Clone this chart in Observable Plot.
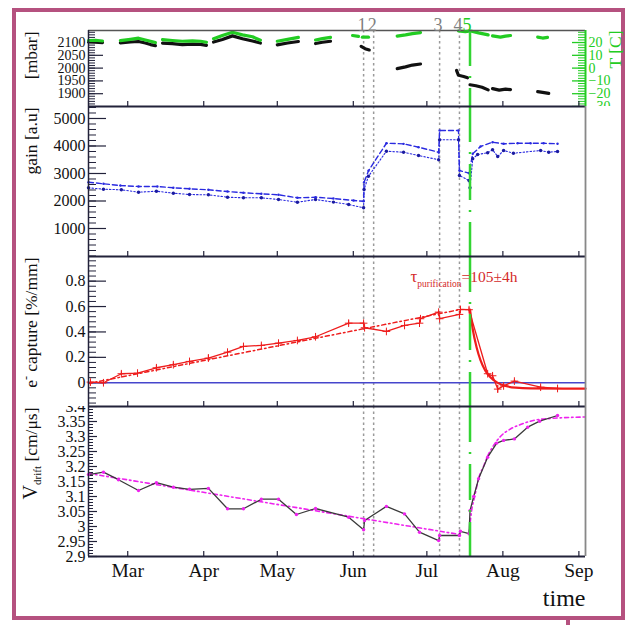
<!DOCTYPE html>
<html><head><meta charset="utf-8">
<script src="https://cdn.jsdelivr.net/npm/d3@7"></script>
<script src="https://cdn.jsdelivr.net/npm/@observablehq/plot@0.6"></script>
<style>
body{margin:0;background:#fff;}
#wrap{position:relative;width:630px;height:625px;overflow:hidden;font-family:"Liberation Serif","Times New Roman",serif;background:#fff;}
#frame{position:absolute;left:12px;top:8px;width:613px;height:612px;box-sizing:border-box;border:4.5px solid #b5517f;}
#mark{position:absolute;left:566px;top:619px;width:4px;height:6px;background:#b5517f;}
.panel{position:absolute;left:0;}
</style></head><body>
<div id="wrap"><div id="frame"></div><div id="mark"></div></div>
<script>
// ---------- data (days counted from 1 March) ----------
const monthLabels = ["Mar","Apr","May","Jun","Jul","Aug","Sep"];
const monthStartDays = [0,31,61,92,122,153,184];
const eventDays = [96.2, 100.3, 127.2, 135.3, 139.6];
const eventLabels = ["1","2","3","4","5"];

// pressure [mbar] (black) and temperature [C] (green)
const pressDay = [-16.0,-13.2,-10.3, -3.0,1.1,4.4,7.2,9.3,11.3, 14.2,18.2,22.3,26.4,29.7,32.1, 35.0,38.6,42.7,46.8,50.9,54.1, 61.0,65.2,69.6, 76.6,79.4,82.7, 95.2,96.8,98.5, 109.9,113.3,116.1,119.4, 134.1,134.9,137.0,138.6, 139.6,142.0,144.5,147.0, 148.8,151.5,154.1,156.1, 167.2,169.2,171.7];
const pressVal = [2102,2101,2100, 2099,2102,2104,2098,2092,2088, 2098,2096,2092,2094,2093,2089, 2102,2112,2126,2115,2106,2098, 2091,2098,2104, 2096,2101,2105, 2085,2076,2071, 1998,2005,2012,2016, 1991,1972,1967,1962, 1935,1931,1925,1915, 1920,1914,1918,1916, 1908,1905,1901];
const pressSeg = [1,1,1, 2,2,2,2,2,2, 3,3,3,3,3,3, 4,4,4,4,4,4, 5,5,5, 6,6,6, 7,7,7, 8,8,8,8, 9,9,9,9, 10,10,10,10, 11,11,11,11, 12,12,12];
const tempDay = [-16.0,-13.2,-10.3, -3.0,1.1,4.4,7.2,9.3,11.3, 14.2,18.2,22.3,26.4,29.7,32.1, 35.0,38.6,42.7,46.8,50.9,54.1, 61.0,65.2,69.6, 76.6,79.4,82.7, 91.7,94.1, 95.7,98.2, 109.9,113.3,116.1,119.4, 134.9,137.7,139.8,143.1,147.0, 148.8,152.0,154.1,156.1, 167.2,169.2,171.2];
const tempVal = [21.6,21.8,21.2, 21.5,22.5,23.4,22.0,21.0,20.0, 22.2,21.6,21.0,21.3,21.0,20.2, 23.0,25.5,28.0,26.0,24.5,21.8, 21.0,22.5,24.0, 22.0,23.0,24.0, 25.5,24.8, 24.2,24.2, 25.0,26.0,27.0,27.8, 29.0,28.5,29.0,27.5,26.0, 25.2,24.2,25.0,25.5, 24.2,23.5,24.0];
const tempSeg = [1,1,1, 2,2,2,2,2,2, 3,3,3,3,3,3, 4,4,4,4,4,4, 5,5,5, 6,6,6, 7,7, 8,8, 9,9,9,9, 10,10,10,10,10, 11,11,11,11, 12,12,12];

// gain [a.u] : two series
const gainUpDay = [-16.0,-9.9,-3.0,4.4,12.1,18.6,25.2,32.9,40.7,47.2,54.5,61.5,69.2,76.6, 83.9,92.1,96.2, 96.4,98.2,105.5,112.5,118.6,126.8, 127.2,134.9, 135.3,139.2, 140.7,143.9,148.8,153.3,159.0,164.3,169.6,175.3];
const gainUpVal = [2684,2625,2564,2527,2527,2480,2443,2407,2345,2298,2262,2225,2116,2138, 2090,2018,1990, 2680,3100,4100,4078,3956,3774, 4563,4563, 3109,3011, 3716,3982,4138,4080,4100,4100,4100,4080];
const gainLoDay = [-16.0,-9.9,-2.6,4.4,11.7,18.6,25.2,32.9,40.7,47.2,54.5,61.5,69.2,76.6, 83.9,90.1,96.2, 96.4,98.2,105.5,112.5,118.6,126.8, 127.2,134.9, 135.3,139.2,139.6, 140.7,142.7,146.8,148.8,150.9,153.3,157.3,168.4,171.7,175.3];
const gainLoVal = [2480,2429,2407,2320,2356,2284,2236,2225,2138,2116,2116,2054,1956,2054, 1960,1873,1753, 2420,2900,3810,3774,3654,3500, 4225,4225, 2927,2745,2480, 3534,3690,3752,3862,3618,3836,3738,3836,3774,3800];

// e- capture [%/mm]
const capDay = [-15.2,-9.9,-2.6,4.0,11.7,18.6,25.2,32.9,40.7,47.2,54.5,61.5,69.2,76.6, 90.1,96.2,96.6,105.5,112.9,119.0,119.4,126.8,127.2,135.3,135.7,139.2, 146.8,148.8,150.9,153.3,157.7,168.4,175.3];
const capVal = [0.005,0.0,0.071,0.076,0.118,0.142,0.168,0.194,0.241,0.286,0.294,0.312,0.333,0.362, 0.469,0.469,0.433,0.404,0.451,0.469,0.504,0.556,0.504,0.538,0.577,0.575, 0.071,0.055,-0.05,-0.025,0.013,-0.035,-0.045];
const capErr = [0.01,0.02,0.015,0.01,0.015,0.012,0.012,0.025,0.012,0.01,0.01,0.01,0.01,0.012, 0.02,0.012,0.01,0.01,0.01,0.01,0.01,0.01,0.01,0.01,0.02,0.015, 0.01,0.015,0.03,0.015,0.01,0.01,0.01];
const capFitDay = [-16.0, 135.7];
const capFitVal = [-0.006, 0.577];
const capDecayDay = [139.6,140.7,142.3,143.9,145.9,148.0,150.9,154.1,158.2,164.3,186.7];
const capDecayVal = [0.575,0.423,0.277,0.176,0.093,0.041,-0.001,-0.025,-0.039,-0.045,-0.047];

// V drift [cm/us]
const vDay = [-16.0,-9.9,-3.8,4.4,11.7,18.6,25.2,32.9,40.7,47.2,54.5,61.5,68.8,76.6, 90.1,96.2,96.6,105.5,112.9,119.0,126.8,127.2,135.3,135.7,139.2,139.6,141.1,143.1,146.8,150.5,153.3,157.7,163.1,168.0,175.3];
const vVal = [3.173,3.181,3.156,3.12,3.146,3.131,3.124,3.127,3.059,3.059,3.091,3.091,3.04,3.06, 3.031,2.989,3.02,3.067,3.042,2.981,2.953,2.97,2.97,2.984,2.976,3.053,3.1,3.159,3.231,3.278,3.287,3.292,3.331,3.351,3.37];
const vFitDay = [-16.0, 135.7];
const vFitVal = [3.177, 2.973];
const vRiseDay = [139.2,140.2,141.5,143.1,145.1,146.8,149.2,152.0,156.1,160.2,166.3,172.5,186.7];
const vRiseVal = [2.975,3.05,3.10,3.16,3.20,3.235,3.27,3.30,3.325,3.34,3.355,3.36,3.365];

// axis ticks
const pressTicks = [1900,1950,2000,2050,2100];
const tempTicks = [-30,-20,-10,0,10,20];
const gainTicks = [1000,2000,3000,4000,5000];
const capTicks = [0,0.2,0.4,0.6,0.8];
const vTicks = [2.9,2.95,3,3.05,3.1,3.15,3.2,3.25,3.3,3.35,3.4];

// ---------- setup ----------
const D0 = Date.UTC(2010, 2, 1);
const toDate = d => new Date(D0 + d * 864e5);
const xDomain = [toDate(-16.0), toDate(186.7)];
const months = monthStartDays.map(toDate);
const W = 630, ML = 88, MR = 45, FW = W - ML - MR;
const FONT = "Liberation Serif, Times New Roman, serif";
const DARK = "#22223a", GREEN = "#22cc22", RED = "#ee1c1c", BLUE = "#2a2ae0", MAG = "#ee22ee";
const fmt = d => String(+d.toFixed(2)).replace("-", "\u2212");

const press = pressDay.map((d,i) => ({date: toDate(d), v: pressVal[i], seg: pressSeg[i]}));
const temp = tempDay.map((d,i) => ({date: toDate(d), v: tempVal[i], seg: tempSeg[i]}));
const gainUp = gainUpDay.map((d,i) => ({date: toDate(d), v: gainUpVal[i]}));
const gainLo = gainLoDay.map((d,i) => ({date: toDate(d), v: gainLoVal[i]}));
const cap = capDay.map((d,i) => ({date: toDate(d), v: capVal[i], e: capErr[i]}));
const capFit = capFitDay.map((d,i) => ({date: toDate(d), v: capFitVal[i]}));
const capDecay = capDecayDay.map((d,i) => ({date: toDate(d), v: capDecayVal[i]}));
const vd = vDay.map((d,i) => ({date: toDate(d), v: vVal[i]}));
const vFit = vFitDay.map((d,i) => ({date: toDate(d), v: vFitVal[i]}));
const vRise = vRiseDay.map((d,i) => ({date: toDate(d), v: vRiseVal[i]}));
const events = eventDays.map((d,i) => ({date: toDate(d), label: eventLabels[i]}));

function leftAxis(major, minor, majLen, minLen, labels, fs) {
  return [
    Plot.tickY(minor, {y: d => d, stroke: DARK, strokeWidth: 1, insetRight: FW - minLen}),
    Plot.tickY(major, {y: d => d, stroke: DARK, strokeWidth: 1.2, insetRight: FW - majLen}),
    Plot.text(labels, {y: d => d, text: fmt, frameAnchor: "left", textAnchor: "end", dx: -3,
      fontSize: fs, fontFamily: FONT, fill: "#111"})
  ];
}
function frameMarks(yDom, rightColor = "#888") {
  return [
    Plot.ruleY([yDom[0]], {stroke: DARK, strokeWidth: 2}),
    Plot.ruleY([yDom[1]], {stroke: DARK, strokeWidth: 2}),
    Plot.ruleX([xDomain[0]], {stroke: DARK, strokeWidth: 1.5}),
    Plot.ruleX([xDomain[1]], {stroke: rightColor, strokeWidth: 1.8})
  ];
}
function monthTicks(h) {
  return Plot.tickX(months, {x: d => d, stroke: DARK, strokeWidth: 1.2, insetTop: h - 5});
}
function eventRules() {
  return Plot.ruleX(events.slice(0, 4), {x: "date", stroke: "#9a9a9a", strokeWidth: 1.5, strokeDasharray: "2.5,3"});
}
function greenRule() {
  return Plot.ruleX(events.slice(4), {x: "date", stroke: "#33d433", strokeWidth: 2.5, strokeDasharray: "36,10,2,10"});
}
function yTitle(t, fill = "#111") {
  return Plot.text([t], {text: d => d, frameAnchor: "top-left", rotate: -90, textAnchor: "end",
    lineAnchor: "middle", dx: -57, dy: 1, fontSize: 17.5, fontFamily: FONT, fill});
}
function makePlot({height, marginTop = 0, marginBottom = 0, yDomain, marks}) {
  return Plot.plot({
    width: W, height, marginLeft: ML, marginRight: MR, marginTop, marginBottom,
    x: {type: "utc", domain: xDomain, axis: null},
    y: {domain: yDomain, axis: null},
    style: {overflow: "hidden", background: "transparent", fontFamily: FONT},
    marks
  });
}
function place(svg, top) {
  const div = document.createElement("div");
  div.className = "panel";
  div.style.top = top + "px";
  div.appendChild(svg);
  document.getElementById("wrap").appendChild(div);
  return svg;
}
function rich(svg, content, parts) {
  svg.querySelectorAll("text").forEach(el => {
    if (el.textContent === content) {
      const t = d3.select(el);
      t.text(null);
      for (const p of parts) {
        const s = t.append("tspan").text(p.t);
        if (p.fs) s.attr("font-size", p.fs);
        if (p.dy) s.attr("dy", p.dy);
      }
    }
  });
}

// ---------- panel 1 : pressure / temperature ----------
const pDom = [1850, 2147];
const TtoP = t => 2000 + 5 * t;
const p1H = 76;
const p1 = makePlot({
  height: 106, marginTop: 30, yDomain: pDom,
  marks: [
    ...leftAxis(pressTicks, d3.range(1860, 2150, 10), 15, 7, pressTicks, 14),
    Plot.tickY(d3.range(-30, 30, 2).map(TtoP), {y: d => d, stroke: GREEN, strokeWidth: 1, insetLeft: FW - 7}),
    Plot.tickY(tempTicks.map(TtoP), {y: d => d, stroke: GREEN, strokeWidth: 1.3, insetLeft: FW - 13}),
    Plot.text(tempTicks, {y: TtoP, text: fmt, frameAnchor: "right", textAnchor: "start", dx: 3,
      fontSize: 14, fontFamily: FONT, fill: GREEN}),
    eventRules(),
    Plot.line(press, {x: "date", y: "v", z: "seg", stroke: "#111", strokeWidth: 3.2, strokeLinecap: "round", strokeLinejoin: "round"}),
    Plot.line(temp, {x: "date", y: d => TtoP(d.v), z: "seg", stroke: GREEN, strokeWidth: 3.2, strokeLinecap: "round", strokeLinejoin: "round"}),
    greenRule(),
    monthTicks(p1H),
    Plot.ruleY([pDom[0]], {stroke: DARK, strokeWidth: 2}),
    Plot.ruleY([pDom[1]], {stroke: "#555", strokeWidth: 1.5}),
    Plot.ruleX([xDomain[0]], {stroke: DARK, strokeWidth: 1.5}),
    Plot.ruleX([xDomain[1]], {stroke: GREEN, strokeWidth: 2}),
    yTitle("[mbar]"),
    Plot.text(["T [C]"], {text: d => d, frameAnchor: "top-right", rotate: -90, textAnchor: "end",
      lineAnchor: "middle", dx: 30, dy: 0, fontSize: 17.5, fontFamily: FONT, fill: GREEN}),
    Plot.text(events.slice(0, 4), {x: "date", text: "label", frameAnchor: "top", dy: -12, dx: -1.5,
      fontSize: 18, fontFamily: FONT, fill: "#808080"}),
    Plot.text(events.slice(4), {x: "date", text: "label", frameAnchor: "top", dy: -12, dx: -3,
      fontSize: 18, fontFamily: FONT, fill: GREEN})
  ]
});
place(p1, 0);

// ---------- panel 2 : gain ----------
const gDom = [-18, 5436];
const p2 = makePlot({
  height: 150, yDomain: gDom,
  marks: [
    ...leftAxis(gainTicks, d3.range(0, 5437, 200), 18, 8, gainTicks, 16),
    eventRules(),
    Plot.line(gainUp, {x: "date", y: "v", stroke: BLUE, strokeWidth: 1.4, strokeDasharray: "5,3"}),
    Plot.line(gainLo, {x: "date", y: "v", stroke: BLUE, strokeWidth: 1.1, strokeDasharray: "1.5,2"}),
    Plot.dot(gainLo, {x: "date", y: "v", r: 1.7, fill: "#1a1aa0"}),
    Plot.dot(gainUp, {x: "date", y: "v", r: 1.2, fill: BLUE}),
    greenRule(),
    monthTicks(150),
    ...frameMarks(gDom),
    yTitle("gain [a.u]")
  ]
});
place(p2, 106);

// ---------- panel 3 : e- capture ----------
const cDom = [-0.187, 0.994];
const p3 = makePlot({
  height: 150, yDomain: cDom,
  marks: [
    ...leftAxis(capTicks, d3.range(-4, 25).map(i => i * 0.04), 18, 8, capTicks, 16),
    eventRules(),
    Plot.ruleY([0], {stroke: "#4646cc", strokeWidth: 1.5}),
    Plot.line(capFit, {x: "date", y: "v", stroke: RED, strokeWidth: 1.5, strokeDasharray: "4,3,1.5,3"}),
    Plot.line(cap, {x: "date", y: "v", stroke: RED, strokeWidth: 1.3}),
    Plot.ruleX(cap, {x: "date", y1: d => d.v - d.e, y2: d => d.v + d.e, stroke: RED, strokeWidth: 1}),
    Plot.dot(cap, {x: "date", y: "v", symbol: "plus", r: 2.6, stroke: RED, strokeWidth: 1}),
    Plot.line(capDecay, {x: "date", y: "v", stroke: RED, strokeWidth: 2.2, curve: "monotone-x"}),
    greenRule(),
    monthTicks(150),
    ...frameMarks(cDom),
    yTitle("e- capture [%/mm]"),
    Plot.text(["tpurification=105±4h"], {x: () => toDate(115.3), y: () => 0.792, text: d => d,
      textAnchor: "start", lineAnchor: "bottom", fontSize: 15.5, fontFamily: FONT, fill: "#d42a2a"})
  ]
});
place(p3, 256);
rich(p3, "e- capture [%/mm]", [{t: "e"}, {t: "-", fs: 12, dy: -7}, {t: " capture [%/mm]", dy: 7}]);
rich(p3, "tpurification=105±4h", [{t: "\u03C4", fs: 17}, {t: "purification", fs: 9.5, dy: 5}, {t: "=105±4h", dy: -5}]);

// ---------- panel 4 : V drift ----------
const vDom = [2.9, 3.4];
const p4 = makePlot({
  height: 219, marginBottom: 69, yDomain: vDom,
  marks: [
    ...leftAxis(vTicks, d3.range(0, 51).map(i => 2.9 + i * 0.01), 9, 5, vTicks, 16),
    eventRules(),
    Plot.line(vFit, {x: "date", y: "v", stroke: MAG, strokeWidth: 1.6, strokeDasharray: "4,3,1.5,3"}),
    Plot.line(vRise, {x: "date", y: "v", stroke: MAG, strokeWidth: 1.6, strokeDasharray: "4,3,1.5,3", curve: "monotone-x"}),
    Plot.line(vd, {x: "date", y: "v", stroke: "#3a3a3a", strokeWidth: 1.3}),
    Plot.dot(vd, {x: "date", y: "v", r: 1.7, fill: MAG}),
    greenRule(),
    monthTicks(150),
    ...frameMarks(vDom),
    yTitle("Vdrift [cm/\u03BCs]"),
    Plot.text(months, {x: d => d, text: (d, i) => monthLabels[i], frameAnchor: "bottom", lineAnchor: "bottom",
      dy: 20, fontSize: 19.5, fontFamily: FONT, fill: "#111"}),
    Plot.text(["time"], {text: d => d, frameAnchor: "bottom-right", textAnchor: "end", lineAnchor: "bottom",
      dy: 49, fontSize: 24, fontFamily: FONT, fill: "#111"})
  ]
});
place(p4, 406);
rich(p4, "Vdrift [cm/\u03BCs]", [{t: "V", fs: 20}, {t: "drift", fs: 11, dy: 4}, {t: " [cm/\u03BCs]", dy: -4}]);
</script>
</body></html>
